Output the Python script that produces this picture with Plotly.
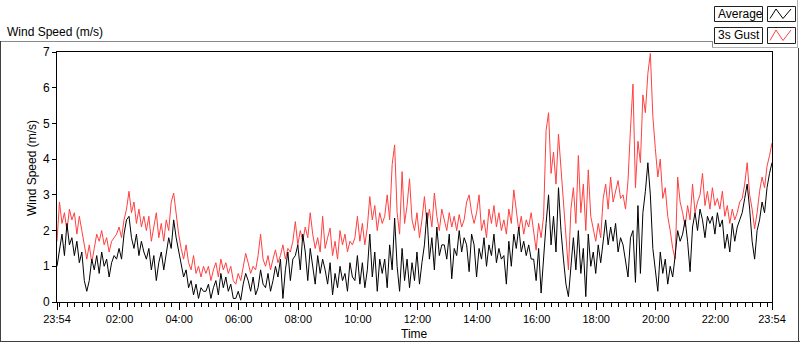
import pandas as pd
import plotly.graph_objects as go

# 5-minute samples from 23:54 (day 1) to 23:54 (day 2)
gust = [
    1.7, 2.8, 2.2, 2.5, 2.0, 2.6, 2.3, 2.5, 1.9, 2.4, 2.0, 1.6,      # 23:54
    1.2, 1.6, 1.1, 1.5, 1.9, 1.7, 2.0, 1.6, 1.8, 1.4, 1.7, 1.8,      # 00:54
    1.9, 2.1, 1.8, 2.3, 2.6, 3.1, 2.5, 2.8, 2.2, 2.6, 2.1, 2.4,      # 01:54
    2.0, 2.4, 1.7, 2.1, 2.5, 1.8, 2.2, 1.7, 2.3, 2.0, 2.8, 3.05,     # 02:54
    2.4, 1.9, 1.5, 1.2, 1.6, 1.1, 0.9, 1.3, 0.8, 1.0, 0.7, 1.0,      # 03:54
    0.8, 1.0, 0.6, 0.9, 1.1, 0.7, 1.2, 0.9, 1.1, 0.8, 1.0, 0.6,      # 04:54
    0.5, 0.8, 0.6, 1.0, 1.36, 1.1, 0.8, 1.0, 0.9, 1.3, 1.9, 1.2,     # 05:54
    1.0, 1.3, 0.9, 1.2, 1.46, 1.1, 1.3, 1.6, 1.2, 1.5, 1.4, 1.7,     # 06:54
    2.25, 1.6, 2.0, 1.7, 2.1, 1.8, 2.5, 1.9, 1.5, 1.8, 1.4, 2.4,     # 07:54
    1.5, 1.8, 2.07, 1.3, 1.7, 1.2, 2.0, 1.6, 1.9, 1.4, 1.7, 1.6,     # 08:54
    1.8, 2.4, 1.7, 2.2, 1.6, 2.1, 2.95, 2.3, 2.7, 2.0, 2.5, 2.2,     # 09:54
    2.4, 3.0, 2.3, 3.85, 4.4, 2.5, 1.9, 3.65, 2.2, 2.7, 3.45, 2.3,   # 10:54
    2.0, 2.5, 1.8, 2.3, 2.95, 2.2, 2.6, 2.1, 3.05, 2.4, 2.0, 2.6,    # 11:54
    2.3, 2.0, 2.5, 2.1, 2.4, 2.0, 2.45, 2.1, 2.3, 2.8, 3.0, 2.5,     # 12:54
    2.2, 2.5, 3.0, 2.0, 2.3, 1.8, 2.6, 2.2, 2.7, 2.1, 2.5, 2.0,      # 13:54
    2.3, 1.9, 2.6, 2.2, 3.14, 2.5, 2.0, 2.4, 1.9, 2.3, 2.1, 2.5,     # 14:54
    2.0, 1.45, 2.2, 1.8, 2.4, 4.8, 5.3, 3.6, 4.2, 3.3, 4.7, 3.8,     # 15:54
    2.8, 1.9, 0.9, 2.6, 3.2, 2.2, 4.1, 2.5, 3.3, 2.0, 3.7, 2.4,      # 16:54
    2.0, 1.7, 2.2, 1.8, 2.9, 3.3, 2.6, 3.5, 2.8, 3.1, 3.4, 2.9,      # 17:54
    3.0, 2.6, 3.4, 4.85, 6.1, 3.2, 4.5, 3.9, 5.8, 5.3, 6.4, 6.96,    # 18:54
    5.2, 4.3, 3.5, 4.0, 2.9, 3.2, 2.4, 2.0, 1.5, 1.2, 3.5, 2.8,      # 19:54
    2.5, 2.1, 2.7, 2.3, 3.3, 2.5, 2.8, 3.0, 3.6, 2.7, 3.1, 2.6,      # 20:54
    3.2, 2.7, 2.9, 2.6, 3.1, 2.4, 2.7, 2.2, 2.6, 2.3, 2.5, 2.8,      # 21:54
    2.9, 3.3, 3.9, 3.0, 2.6, 2.05, 2.5, 3.1, 3.5, 3.2, 3.8, 4.1,     # 22:54
    4.45,                                                            # 23:54
]
average = [
    1.0, 1.5, 1.9, 1.3, 2.2, 1.6, 1.8, 1.3, 1.7, 1.1, 1.4, 0.6,
    0.3, 0.6, 1.2, 0.9, 1.3, 0.8, 1.4, 1.0, 1.2, 0.7, 1.1, 1.3,
    1.2, 1.5, 1.2, 1.9, 2.3, 2.4, 1.8, 1.5, 1.9, 1.3, 1.7, 1.4,
    1.2, 1.5, 0.9, 1.3, 0.6, 1.1, 1.4, 0.9, 1.3, 1.8, 1.5, 2.3,
    1.8, 1.4, 1.0, 0.7, 0.9, 0.4, 0.6, 0.2, 0.5, 0.1, 0.4, 0.3,
    0.3, 0.5, 0.1, 0.4, 0.6, 0.2, 0.8, 0.4, 0.7, 0.3, 0.5, 0.1,
    0.1, 0.3, 0.05, 0.5, 0.8, 0.6, 0.3, 0.7, 0.2, 0.4, 0.9, 0.5,
    0.4, 0.8, 0.3, 0.6, 1.0, 0.7, 1.2, 0.1, 0.9, 1.4, 0.6, 1.2,
    1.3, 1.6, 0.9, 1.9, 1.4, 0.6, 1.5, 1.0, 0.5, 1.3, 0.8, 1.2,
    0.9, 0.5, 1.1, 0.2, 0.8, 0.4, 1.0, 0.6, 0.8, 0.3, 1.1, 0.7,
    0.6, 1.3, 0.5, 1.1, 0.4, 0.9, 1.9, 0.7, 1.4, 0.3, 1.2, 0.8,
    1.2, 0.4, 1.6, 0.9, 2.35, 1.0, 0.3, 1.5, 0.6, 1.2, 0.4, 1.1,
    0.6, 1.4, 0.5, 1.1, 1.6, 2.5, 1.2, 1.8, 0.9, 2.1, 1.3, 1.6,
    1.6, 1.2, 1.9, 0.65, 1.5, 1.3, 2.0, 1.4, 1.8, 1.6, 0.85, 1.9,
    1.6, 0.7, 1.5, 1.2, 1.8, 1.0, 1.6, 1.3, 1.9, 1.1, 1.5, 1.2,
    1.3, 0.5, 1.7, 1.0, 1.9, 1.5, 2.1, 1.4, 1.7, 1.3, 1.6, 1.2,
    1.2, 0.6, 1.5, 0.25, 1.3, 2.2, 3.0, 1.6, 2.4, 1.4, 3.2, 2.0,
    1.2, 0.5, 0.15, 1.1, 1.8, 0.9, 2.0, 0.8, 1.5, 0.15, 1.9, 1.0,
    1.4, 0.8, 1.6, 1.1, 1.8, 2.3, 1.6, 2.1, 1.7, 2.2, 1.4, 1.8,
    1.6, 1.2, 0.7, 1.8, 2.0, 0.55, 2.7, 0.8, 2.5, 3.1, 3.9, 3.0,
    1.5, 0.9, 0.3, 1.4, 0.8, 1.2, 0.5, 1.0, 0.7, 1.3, 2.0, 1.7,
    1.9, 2.3, 1.7, 0.85, 2.1, 2.5, 2.0, 2.6, 2.3, 1.8, 2.4, 2.2,
    2.4, 1.9, 2.5, 2.1, 2.3, 1.5, 1.9, 1.4, 2.2, 1.7, 2.1, 2.3,
    2.5, 2.9, 3.3, 2.6, 1.7, 1.2, 2.0, 2.3, 2.8, 2.5, 3.2, 3.6,
    3.9,
]
tick_labels = ["23:54", "02:00", "04:00", "06:00", "08:00", "10:00", "12:00",
               "14:00", "16:00", "18:00", "20:00", "22:00", "23:54"]

start = pd.Timestamp("2021-03-01 23:54")
end = start + pd.Timedelta(hours=24)
times = pd.date_range(start, periods=len(gust), freq="5min")
tick_vals = [start] + [pd.Timestamp("2021-03-02") + pd.Timedelta(hours=h) for h in range(2, 23, 2)] + [end]

W, H = 800, 342
L, R, T, B = 57, 772, 52, 302
def X(px): return (px - L) / (R - L)
def Y(py): return (B - py) / (B - T)

FONT = "Liberation Sans"
RED = "#ff4040"

fig = go.Figure()
fig.add_trace(go.Scatter(x=times, y=gust, mode="lines", name="3s Gust",
                         line=dict(color=RED, width=1)))
fig.add_trace(go.Scatter(x=times, y=average, mode="lines", name="Average",
                         line=dict(color="black", width=1)))

fig.update_xaxes(range=[start, end], tickmode="array", tickvals=tick_vals, ticktext=tick_labels,
                 ticks="outside", ticklen=7, tickcolor="black", showgrid=False, zeroline=False,
                 showline=True, linecolor="black", linewidth=1, mirror=True,
                 tickfont=dict(family=FONT, size=11, color="black"),
                 minor=dict(ticks="outside", ticklen=4, tickcolor="black",
                            dtick=15 * 60 * 1000, tick0="2021-03-02 00:00", showgrid=False))
fig.update_yaxes(range=[0, 7], dtick=1, ticks="outside", ticklen=4, tickcolor="black",
                 showgrid=False, zeroline=False, showline=True, linecolor="black",
                 linewidth=1, mirror=True, tickfont=dict(family=FONT, size=12, color="black"))

shapes = []
def line(x0, y0, x1, y1, color, w=1):
    shapes.append(dict(type="line", xref="paper", yref="paper", x0=X(x0), y0=Y(y0),
                       x1=X(x1), y1=Y(y1), line=dict(color=color, width=w)))
def rect(x0, y0, x1, y1, color, fill="white"):
    shapes.append(dict(type="rect", xref="paper", yref="paper", x0=X(x0), y0=Y(y0),
                       x1=X(x1), y1=Y(y1), line=dict(color=color, width=1), fillcolor=fill))

# outer frame
line(0, 41.5, 712, 41.5, "#8a8a8a")
line(0.5, 41, 0.5, 342, "#404040")
line(0, 341.5, 800, 341.5, "#404040")
line(798.5, 48, 798.5, 342, "#404040")
# legend panel
line(712.5, 41, 712.5, 48, "#8a8a8a")
line(712, 47.5, 798, 47.5, "#b0b0b0")
line(797.5, 0, 797.5, 48, "#b0b0b0")
for (y0, y1, col, name) in [(6, 21, "black", "Average"), (27, 43, RED, "3s Gust")]:
    rect(714.5, y0 + 0.5, 762.5, y1 + 0.5, "#202020")
    rect(767.5, y0 + 0.5, 795.5, y1 + 0.5, "#202020")
    yb, yt = y1 - 2.5, y0 + 3
    path = "M {} {} L {} {} L {} {} L {} {}".format(
        X(770), Y(yb), X(776), Y(yt), X(783), Y(yb), X(791), Y(yt))
    shapes.append(dict(type="path", xref="paper", yref="paper", path=path,
                       line=dict(color=col, width=1)))

annotations = [
    dict(text="Wind Speed (m/s)", x=X(5), y=Y(32), xanchor="left", yanchor="middle"),
    dict(text="Wind Speed (m/s)", x=X(32), y=Y(168), xanchor="center", yanchor="middle",
         textangle=-90),
    dict(text="Time", x=X(414), y=Y(334), xanchor="center", yanchor="middle"),
    dict(text="Average", x=X(716), y=Y(14), xanchor="left", yanchor="middle"),
    dict(text="3s Gust", x=X(716), y=Y(35.5), xanchor="left", yanchor="middle"),
]
for a in annotations:
    a.update(xref="paper", yref="paper", showarrow=False,
             font=dict(family=FONT, size=12, color="black"))

fig.update_layout(width=W, height=H, margin=dict(l=L, r=W - R, t=T, b=H - B),
                  paper_bgcolor="white", plot_bgcolor="white", showlegend=False,
                  shapes=shapes, annotations=annotations)

fig.write_html("out.html", config={"displayModeBar": False},
               post_script="document.body.style.margin='0';document.body.style.overflow='hidden';")
